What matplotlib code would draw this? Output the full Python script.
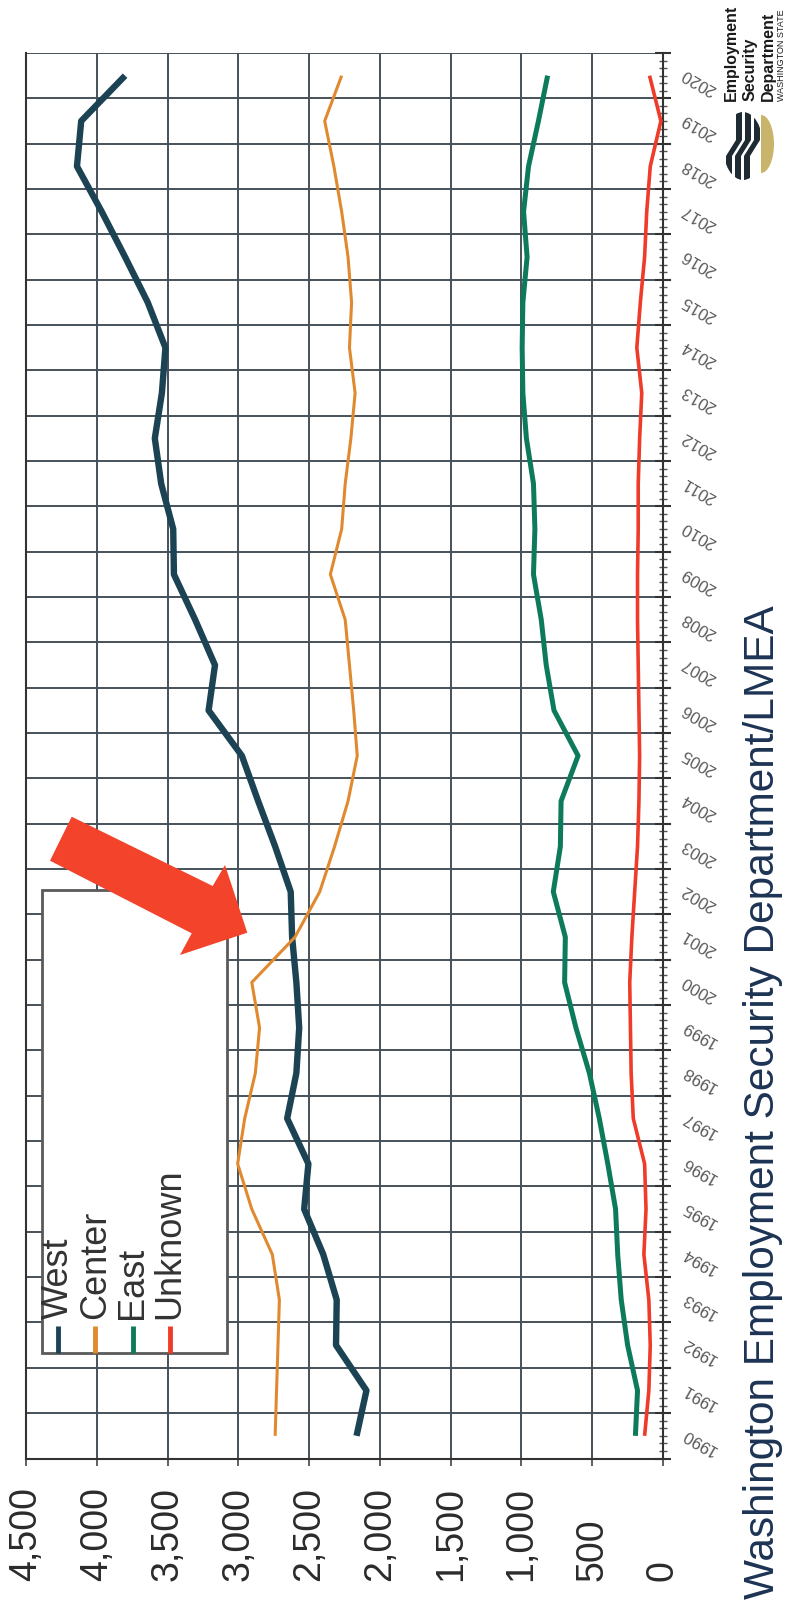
import numpy as np
import matplotlib
matplotlib.use("Agg")
import matplotlib.pyplot as plt
from matplotlib.patches import Polygon, Rectangle, Ellipse

plt.rcParams['font.family'] = ['Liberation Sans', 'DejaVu Sans']

# covered employment by region, 1990-2020
years = list(range(1990, 2021))
west = [2165, 2095, 2310, 2305, 2400, 2535, 2505, 2655, 2590, 2570,
        2590, 2620, 2630, 2740, 2860, 2975, 3210, 3165, 3305, 3455,
        3460, 3545, 3590, 3540, 3515, 3640, 3800, 3965, 4140, 4110,
        3800]
center = [2740, 2730, 2720, 2710, 2760, 2905, 3005, 2955, 2880, 2850,
          2905, 2600, 2425, 2320, 2225, 2160, 2185, 2215, 2245, 2350,
          2270, 2245, 2205, 2175, 2215, 2200, 2225, 2270, 2325, 2390,
          2270]
east = [195, 180, 250, 295, 320, 335, 390, 450, 520, 615,
        695, 690, 775, 725, 720, 600, 770, 825, 860, 915,
        905, 915, 965, 990, 995, 990, 960, 985, 950, 880,
        815]
unknown = [130, 100, 90, 100, 135, 120, 130, 210, 225, 230,
           235, 220, 200, 180, 170, 165, 170, 175, 180, 180,
           175, 175, 165, 150, 185, 160, 130, 115, 90, 15,
           95]
value_ticks = [0, 500, 1000, 1500, 2000, 2500, 3000, 3500, 4000, 4500]
names = ["West", "Center", "East", "Unknown"]
colors = ["#1c4354", "#e0892f", "#0c7a5b", "#ee3b2a"]
widths = [4.6, 2.2, 3.6, 2.6]
title = "Washington Employment Security Department/LMEA"

W_PX, H_PX = 791, 1602
fig = plt.figure(figsize=(W_PX / 100, H_PX / 100), dpi=100)

# page is turned on its side: values run right-to-left, years bottom-to-top
x_left, x_right = 26, 663
y_top, y_bot = 53, 1458.5
ax = fig.add_axes([x_left / W_PX, 1 - y_bot / H_PX,
                   (x_right - x_left) / W_PX, (y_bot - y_top) / H_PX])
ax.set_xlim(4500, 0)
ax.set_ylim(1990, 2021)

pos = np.array(years) + 0.5
for vals, col, lw in zip([west, center, east, unknown], colors, widths):
    ax.plot(vals, pos, color=col, lw=lw, solid_joinstyle='round',
            solid_capstyle='butt', zorder=3)

ax.set_xticks(value_ticks)
ax.set_xticklabels([])
ax.set_yticks(range(1990, 2022))
ax.set_yticklabels([])
ax.set_yticks(np.arange(1990, 2021, 1 / 6), minor=True)
ax.yaxis.tick_right()
ax.tick_params(axis='y', which='major', direction='inout', length=12,
               width=1.5, color='#333333')
ax.tick_params(axis='y', which='minor', direction='inout', length=6,
               width=1, color='#555555')
ax.tick_params(axis='x', direction='out', length=5, width=1.2, color='#444444')
ax.grid(True, which='major', color='#45515a', lw=1.4)
ax.set_axisbelow(True)
for side in ['left', 'bottom', 'right']:
    ax.spines[side].set_color('#333333')
    ax.spines[side].set_linewidth(1.5)
ax.spines['top'].set_visible(False)

# year labels sit between the boundary ticks
for yr in years:
    ax.text(1 + 36 / (x_right - x_left), yr + 0.37, str(yr),
            transform=ax.get_yaxis_transform(), rotation=150,
            ha='center', va='center', fontsize=12, color='#5a5a5a')

# value labels share a common baseline
lab_y = (y_bot - 1581) / (y_bot - y_top)
for v in value_ticks:
    ax.text(v, lab_y, f"{v:,}", transform=ax.get_xaxis_transform(),
            rotation=90, ha='center', va='bottom', fontsize=27,
            color='#2b2b2b')

# overlay in pixel units for legend, arrow, title and logo
ov = fig.add_axes([0, 0, 1, 1])
ov.set_xlim(0, W_PX)
ov.set_ylim(H_PX, 0)
ov.axis('off')
ov.patch.set_alpha(0)

ov.add_patch(Rectangle((42, 890), 185, 463, facecolor='white',
                       edgecolor='#5a5a5a', lw=2, zorder=2))
for i, (name, col) in enumerate(zip(names, colors)):
    lx = 58 + i * 37.3
    ov.plot([lx, lx], [1326, 1353], color=col, lw=3.5, zorder=3,
            solid_capstyle='butt')
    ov.text(lx, 1319, name, rotation=90, ha='center', va='bottom',
            fontsize=26, color='#333333', zorder=3)

ov.add_patch(Polygon([(71.7, 816.7), (212.7, 886), (225, 865), (247.3, 932.7),
                      (180, 955), (191.7, 933.3), (50, 860.7)],
                     closed=True, facecolor='#f4432b', edgecolor='none',
                     zorder=4))

ov.text(763, 1599, title, rotation=90, ha='center', va='bottom',
        fontsize=30.5, color='#1d3354')

# agency mark
for txt, lx, fs, wt in [("Employment", 731, 11.5, 'bold'),
                        ("Security", 750, 11.5, 'bold'),
                        ("Department", 768, 11.5, 'bold'),
                        ("WASHINGTON STATE", 781.5, 6.5, 'normal')]:
    ov.text(lx, 101, txt, rotation=90, ha='center', va='bottom',
            fontsize=fs, fontweight=wt, color='#1a1a1a')
mark = Ellipse((743, 146), 40, 68, transform=ov.transData)
for k in range(3):
    u0, l0 = 736 + 9 * k, 726 + 9 * k
    band = Polygon([(u0, 105), (u0 + 6, 105), (u0 + 6, 140), (l0 + 6, 156),
                    (l0 + 6, 190), (l0, 190), (l0, 156), (u0, 140)],
                   closed=True, facecolor='#1e2b33', edgecolor='none')
    ov.add_patch(band)
    band.set_clip_path(mark)
moon = Ellipse((761, 144), 26, 58, facecolor='#c8b46a', edgecolor='none')
ov.add_patch(moon)
moon.set_clip_path(Rectangle((761, 100), 30, 100, transform=ov.transData))

fig.savefig("out.png", dpi=100, facecolor='white')
